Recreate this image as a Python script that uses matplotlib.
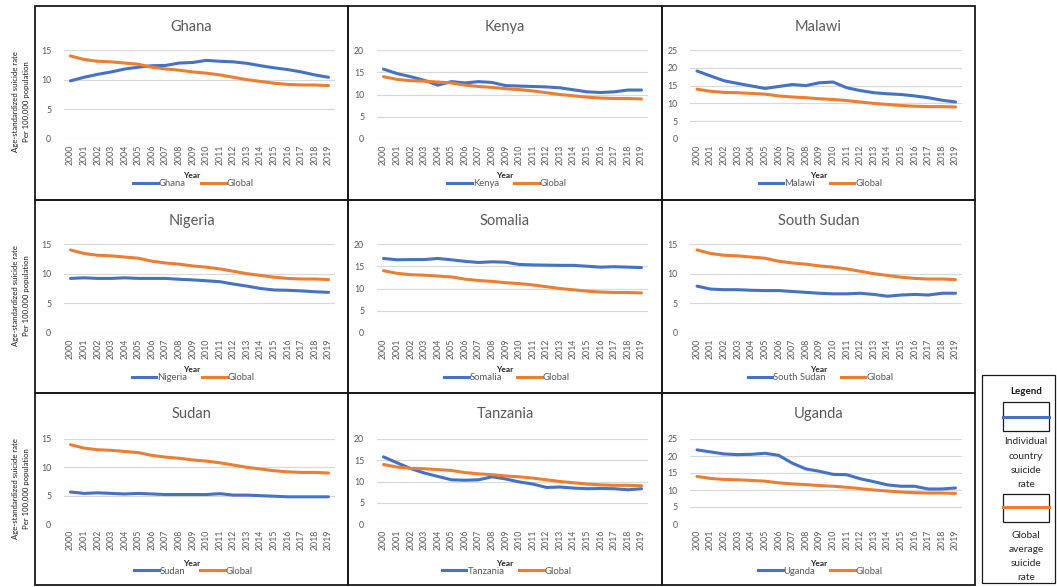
import matplotlib
matplotlib.use("Agg")
import matplotlib.pyplot as plt
from matplotlib.lines import Line2D
from matplotlib.patches import Rectangle

plt.rcParams["font.family"] = ["Lato", "DejaVu Sans"]

# ---- data (age-standardized suicide rate per 100,000) ----
years = list(range(2000, 2020))
global_rate = [14.0, 13.4, 13.1, 13.0, 12.8, 12.6, 12.1, 11.8, 11.6, 11.3,
               11.1, 10.8, 10.4, 10.0, 9.7, 9.4, 9.2, 9.1, 9.1, 9.0]
ghana = [9.8, 10.4, 10.9, 11.3, 11.8, 12.1, 12.35, 12.4, 12.8, 12.9,
         13.25, 13.1, 13.0, 12.75, 12.35, 12.0, 11.7, 11.3, 10.8, 10.4]
kenya = [15.7, 14.7, 14.0, 13.2, 12.1, 12.9, 12.6, 12.9, 12.7, 12.0,
         11.9, 11.8, 11.7, 11.5, 11.05, 10.6, 10.45, 10.6, 11.0, 11.0]
malawi = [19.1, 17.7, 16.35, 15.6, 14.9, 14.2, 14.75, 15.3, 15.0, 15.8,
          16.0, 14.4, 13.6, 13.0, 12.7, 12.5, 12.1, 11.6, 10.9, 10.4]
nigeria = [9.2, 9.3, 9.2, 9.2, 9.3, 9.2, 9.2, 9.2, 9.05, 8.95,
           8.8, 8.65, 8.25, 7.9, 7.5, 7.25, 7.2, 7.1, 6.95, 6.85]
somalia = [16.75, 16.45, 16.5, 16.5, 16.75, 16.45, 16.1, 15.85, 16.0, 15.9,
           15.4, 15.3, 15.25, 15.2, 15.2, 15.0, 14.8, 14.9, 14.8, 14.7]
south_sudan = [7.9, 7.4, 7.3, 7.3, 7.2, 7.15, 7.15, 7.0, 6.85, 6.7,
               6.6, 6.6, 6.7, 6.5, 6.2, 6.4, 6.5, 6.4, 6.7, 6.7]
sudan = [5.65, 5.4, 5.5, 5.4, 5.3, 5.4, 5.3, 5.2, 5.2, 5.2,
         5.2, 5.35, 5.1, 5.1, 5.0, 4.9, 4.8, 4.8, 4.8, 4.8]
tanzania = [15.8, 14.4, 13.05, 12.0, 11.2, 10.4, 10.3, 10.4, 11.1, 10.6,
            9.9, 9.4, 8.6, 8.7, 8.45, 8.3, 8.35, 8.3, 8.05, 8.3]
uganda = [21.8, 21.2, 20.6, 20.4, 20.5, 20.8, 20.2, 17.9, 16.2, 15.5,
          14.6, 14.5, 13.3, 12.45, 11.5, 11.1, 11.1, 10.3, 10.3, 10.6]

countries = ["Ghana", "Kenya", "Malawi", "Nigeria", "Somalia", "South Sudan",
             "Sudan", "Tanzania", "Uganda"]
country_rates = [ghana, kenya, malawi, nigeria, somalia, south_sudan,
                 sudan, tanzania, uganda]
y_max = [15, 20, 25, 15, 20, 15, 15, 20, 25]

# ---- styling ----
BLUE = "#4472C4"
ORANGE = "#ED7D31"
GRID = "#D9D9D9"
TXT = "#595959"

W, H = 1057, 587
fig = plt.figure(figsize=(W / 100, H / 100), dpi=100)


def fx(px):
    return px / W


def fy(py):
    return 1 - py / H


# panel frames (pixel edges)
col_edges = [(35, 348), (348, 662), (662, 975)]
row_edges = [(6, 200), (200, 393), (393, 585)]
# first/last category centre for each column, top/bottom of value axis per row
col_x = [(70.5, 328.5), (383.5, 641.5), (697, 955.5)]
row_y = [(50, 139), (244, 333), (439, 524)]

for i, (name, rates, ymax) in enumerate(zip(countries, country_rates, y_max)):
    r, c = divmod(i, 3)
    cx0, cx1 = col_edges[c]
    ry0, ry1 = row_edges[r]
    x0, x1 = col_x[c]
    yt, yb = row_y[r]
    sp = (x1 - x0) / (len(years) - 1)
    left = x0 - sp / 2
    width = (x1 - x0) + sp

    ax = fig.add_axes([fx(left), fy(yb), width / W, (yb - yt) / H])
    idx = list(range(len(years)))
    ax.plot(idx, rates, color=BLUE, lw=2.2, solid_capstyle="round", zorder=3)
    ax.plot(idx, global_rate, color=ORANGE, lw=2.2, solid_capstyle="round", zorder=3)
    ax.set_xlim(-0.5, len(years) - 0.5)
    ax.set_ylim(0, ymax)
    ax.set_yticks(range(0, ymax + 1, 5))
    ax.set_xticks(idx)
    ax.set_xticklabels([str(y) for y in years], rotation=90)
    ax.tick_params(axis="both", length=0, labelsize=6.3, labelcolor=TXT)
    ax.tick_params(axis="y", pad=9)
    ax.tick_params(axis="x", pad=4)
    ax.grid(axis="y", color=GRID, lw=0.9)
    ax.set_axisbelow(True)
    for s in ax.spines.values():
        s.set_visible(False)
    ax.patch.set_alpha(0)

    pcx = (cx0 + cx1) / 2
    fig.text(fx(pcx), fy(ry0 + 21), name, ha="center", va="center",
             fontsize=10.5, color=TXT)
    fig.text(fx(pcx), fy(ry0 + 170), "Year", ha="center", va="center",
             fontsize=6, fontweight="bold", color="#262626")
    handles = [Line2D([], [], color=BLUE, lw=2.2),
               Line2D([], [], color=ORANGE, lw=2.2)]
    fig.legend(handles, [name, "Global"], loc="center",
               bbox_to_anchor=(fx(pcx + 2), fy(ry0 + 178)), ncol=2, frameon=False,
               fontsize=6.8, labelcolor=TXT, handlelength=2.6,
               handletextpad=0.1, columnspacing=1.6, borderpad=0, borderaxespad=0)

    fig.add_artist(Rectangle((fx(cx0), fy(ry1)), (cx1 - cx0) / W, (ry1 - ry0) / H,
                             transform=fig.transFigure, fill=False,
                             edgecolor="#1a1a1a", lw=1.3, zorder=5))

# shared value-axis title per row
for ry0, _ in row_edges:
    fig.text(fx(21), fy(ry0 + 96),
             "Age-standardized suicide rate\nPer 100,000 population",
             rotation=90, ha="center", va="center", fontsize=5.6,
             color="#1a1a1a", linespacing=1.5, multialignment="center")

# explanatory legend box
fig.add_artist(Rectangle((fx(982), fy(583)), 73 / W, 208 / H,
                         transform=fig.transFigure, fill=False,
                         edgecolor="#1a1a1a", lw=0.9))
fig.text(fx(1026), fy(392), "Legend", ha="center", va="center",
         fontsize=7, fontweight="bold", color="#1a1a1a")
for (bt, bb, ly, col, lines, ty) in [
    (402, 431, 417, BLUE, ["Individual", "country", "suicide", "rate"], 442),
    (494, 522, 507, ORANGE, ["Global", "average", "suicide", "rate"], 535),
]:
    fig.add_artist(Rectangle((fx(1003), fy(bb)), 46 / W, (bb - bt) / H,
                             transform=fig.transFigure, fill=False,
                             edgecolor="#1a1a1a", lw=0.9))
    fig.add_artist(Line2D([fx(1003), fx(1049)], [fy(ly), fy(ly)],
                          transform=fig.transFigure, color=col, lw=2.2))
    for k, t in enumerate(lines):
        fig.text(fx(1026), fy(ty + 14.3 * k), t, ha="center", va="center",
                 fontsize=7.3, color="#262626")

fig.savefig("out.png", dpi=100, facecolor="white")
